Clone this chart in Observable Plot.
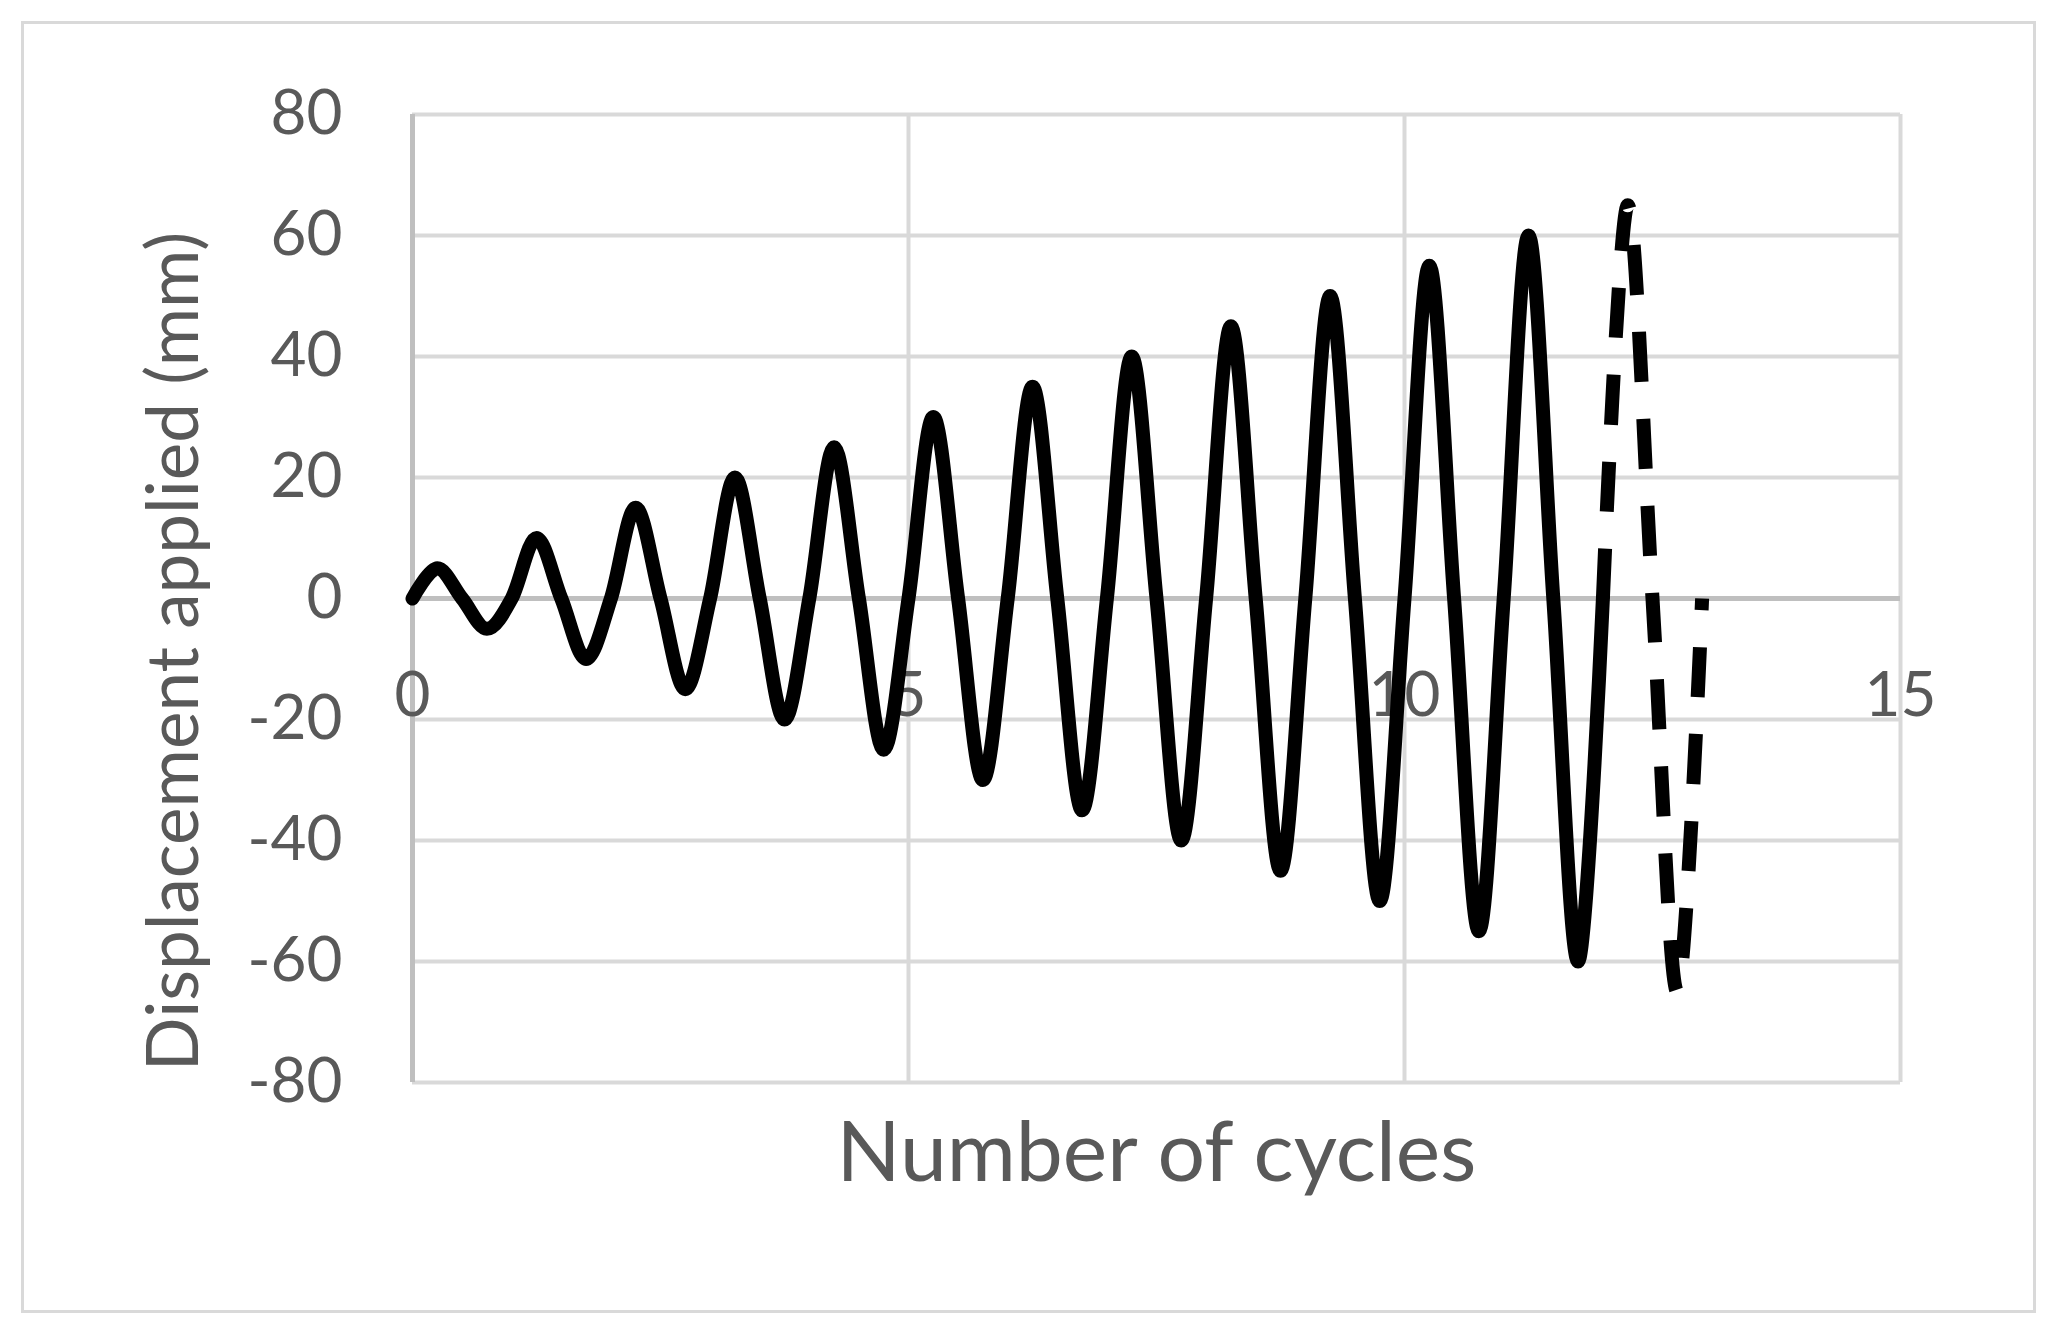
<!DOCTYPE html>
<html>
<head>
<meta charset="utf-8">
<script src="https://cdn.jsdelivr.net/npm/d3@7"></script>
<script src="https://cdn.jsdelivr.net/npm/@observablehq/plot@0.6"></script>
<style>
  html, body { margin: 0; padding: 0; background: #fff; }
  #wrap { position: relative; width: 2063px; height: 1342px; overflow: hidden; }
  #border { position: absolute; left: 21px; top: 21px; width: 2015px; height: 1292px; box-sizing: border-box; border: 3px solid #d9d9d9; pointer-events: none; }
  #chart { position: absolute; left: 0; top: 0; }
</style>
</head>
<body>
<div id="wrap"><div id="border"></div><div id="chart"></div></div>
<script>
// Solid series: number of cycles vs applied displacement (mm)
const solidCycles = [0, 0.25, 0.5, 0.75, 1, 1.25, 1.5, 1.75, 2, 2.25, 2.5, 2.75, 3, 3.25, 3.5, 3.75,
  4, 4.25, 4.5, 4.75, 5, 5.25, 5.5, 5.75, 6, 6.25, 6.5, 6.75, 7, 7.25, 7.5, 7.75,
  8, 8.25, 8.5, 8.75, 9, 9.25, 9.5, 9.75, 10, 10.25, 10.5, 10.75, 11, 11.25, 11.5, 11.75, 12];
const solidDisp = [0, 5, 0, -5, 0, 10, 0, -10, 0, 15, 0, -15, 0, 20, 0, -20,
  0, 25, 0, -25, 0, 30, 0, -30, 0, 35, 0, -35, 0, 40, 0, -40,
  0, 45, 0, -45, 0, 50, 0, -50, 0, 55, 0, -55, 0, 60, 0, -60, 0];
// Dashed series (last cycle)
const dashCycles = [12, 12.25, 12.5, 12.75, 13];
const dashDisp = [0, 65, 0, -65, 0];

const xTicks = [0, 5, 10, 15];
const yTicks = [-80, -60, -40, -20, 0, 20, 40, 60, 80];
const xTitle = "Number of cycles";
const yTitle = "Displacement applied (mm)";

const solid = solidCycles.map((c, i) => ({c, d: solidDisp[i]}));
const dashed = dashCycles.map((c, i) => ({c, d: dashDisp[i]}));

const font = "Lato, 'Open Sans', sans-serif";
const grey = "#595959";

const chart = Plot.plot({
  width: 2063,
  height: 1342,
  marginLeft: 412,
  marginRight: 163,
  marginTop: 114,
  marginBottom: 260,
  x: {domain: [0, 15], axis: null},
  y: {domain: [-80, 80], axis: null},
  style: {fontFamily: font, background: "transparent", color: grey, overflow: "visible"},
  marks: [
    Plot.ruleY(yTicks, {stroke: "#d9d9d9", strokeWidth: 4}),
    Plot.ruleX(xTicks.filter(t => t !== 0), {stroke: "#d9d9d9", strokeWidth: 4}),
    Plot.ruleY([0], {stroke: "#bfbfbf", strokeWidth: 5}),
    Plot.ruleX([0], {stroke: "#bfbfbf", strokeWidth: 5}),
    Plot.text(yTicks, {y: d => d, text: d => String(d), frameAnchor: "left", textAnchor: "end", dx: -70, fontSize: 62, fill: grey}),
    Plot.text(xTicks, {x: d => d, y: () => 0, text: d => String(d), dy: 98, fontSize: 62, fill: grey, lineAnchor: "middle"}),
    Plot.line(solid, {x: "c", y: "d", curve: "cardinal", stroke: "#000", strokeWidth: 14, strokeLinejoin: "round", strokeLinecap: "round"}),
    Plot.line(dashed, {x: "c", y: "d", curve: "cardinal", stroke: "#000", strokeWidth: 14, strokeDasharray: "50,37", strokeLinecap: "butt"}),
    Plot.text([xTitle], {frameAnchor: "bottom", text: d => d, dy: 98, lineAnchor: "bottom", fontSize: 84, fill: grey}),
    Plot.text([yTitle], {frameAnchor: "left", text: d => d, rotate: -90, dx: -215, dy: 53, textAnchor: "middle", lineAnchor: "bottom", fontSize: 71, fill: grey})
  ]
});
document.getElementById("chart").appendChild(chart);
</script>
</body>
</html>
